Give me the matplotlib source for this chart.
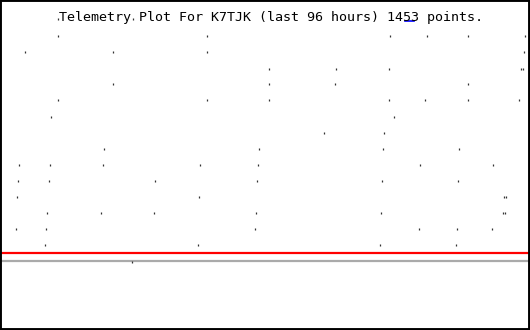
import matplotlib
matplotlib.use("Agg")
import matplotlib.pyplot as plt

# telemetry samples (x = time position, y = level, screen-like units)
dot_x = [58, 207, 390, 427, 468, 525,
         25, 113, 207, 524,
         269, 336, 389, 521, 523,
         113, 269, 335, 468,
         58, 207, 269, 389, 425, 468, 519,
         51, 394,
         324, 384,
         104, 259, 383, 459,
         19, 50, 103, 200, 258, 420, 493,
         18, 49, 155, 257, 382, 458,
         17, 199, 504, 506,
         47, 101, 154, 256, 381, 503, 505,
         16, 46, 255, 419, 457, 492,
         45, 198, 380, 456,
         58, 133]
dot_y = [36, 36, 36, 36, 36, 36,
         52, 52, 52, 52,
         69, 69, 69, 69, 69,
         84, 84, 84, 84,
         100, 100, 100, 100, 100, 100, 100,
         117, 117,
         133, 133,
         149, 149, 149, 149,
         165, 165, 165, 165, 165, 165, 165,
         181, 181, 181, 181, 181, 181,
         197, 197, 197, 197,
         213, 213, 213, 213, 213, 213, 213,
         229, 229, 229, 229, 229, 229,
         245, 245, 245, 245,
         19, 19]

limit_level = 253      # red line
base_level = 261       # grey line
base_tick_x = [132]
blue_x = [405, 414]
blue_y = [21, 21]

title = "Telemetry Plot For K7TJK (last 96 hours) 1453 points."

fig = plt.figure(figsize=(5.3, 3.3), dpi=100)
ax = fig.add_axes([0, 0, 1, 1])
ax.set_xlim(0, 530)
ax.set_ylim(330, 0)
ax.set_xticks([])
ax.set_yticks([])
for s in ax.spines.values():
    s.set_linewidth(2.8)
    s.set_color('black')

ax.axhline(limit_level, color='#ff0000', linewidth=1.6)
ax.axhline(base_level, color='#aaaaaa', linewidth=1.6)

ax.plot(dot_x, dot_y, linestyle='none', marker='|', markersize=1.6,
        markeredgewidth=0.9, color='#333333')
ax.plot(base_tick_x, [base_level + 1] * len(base_tick_x), linestyle='none',
        marker='|', markersize=1.6, markeredgewidth=0.9, color='#333333')
ax.plot(blue_x, blue_y, color='#0000ff', linewidth=1.2)

ax.text(271, 17, title, ha='center', va='center', fontsize=9.6,
        family='DejaVu Sans Mono', color='black')

plt.savefig('out.png', dpi=100)
